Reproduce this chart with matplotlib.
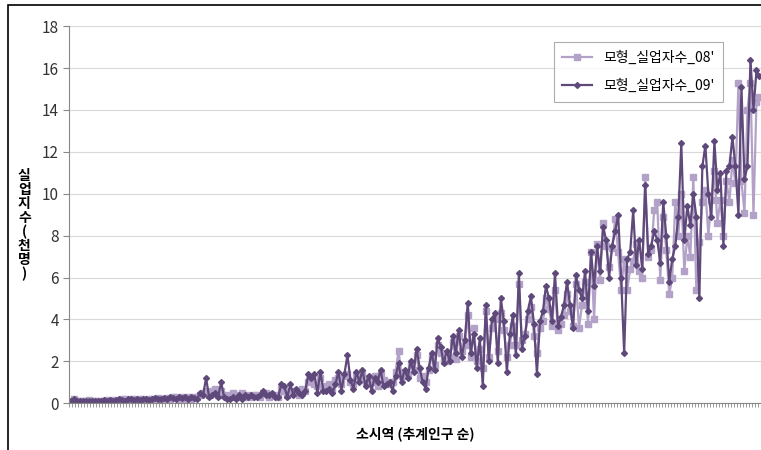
import matplotlib.pyplot as plt
from matplotlib.patches import Rectangle

plt.rcParams['font.family'] = ['Noto Sans CJK KR', 'DejaVu Sans']

s09 = [0.1,0.2,0.1,0.1,0.1,0.1,0.1,0.1,0.1,0.1,
       0.1,0.15,0.1,0.15,0.1,0.15,0.2,0.15,0.1,0.2,
       0.2,0.15,0.2,0.15,0.2,0.2,0.15,0.2,0.25,0.2,
       0.2,0.25,0.2,0.3,0.25,0.2,0.3,0.25,0.3,0.2,
       0.3,0.25,0.2,0.5,0.4,1.2,0.3,0.4,0.5,0.3,
       1.0,0.3,0.2,0.2,0.3,0.2,0.4,0.2,0.4,0.3,
       0.4,0.3,0.3,0.4,0.6,0.4,0.4,0.5,0.3,0.3,
       0.9,0.8,0.3,0.9,0.4,0.7,0.5,0.4,0.6,1.4,
       1.2,1.4,0.5,1.5,0.6,0.6,0.7,0.5,0.9,1.5,
       0.6,1.4,2.3,1.1,0.7,1.5,1.0,1.6,0.8,1.3,
       0.6,1.2,1.0,1.6,0.8,0.9,1.0,0.6,1.3,1.9,
       1.0,1.6,1.2,2.0,1.5,2.6,1.7,1.0,0.7,1.7,
       2.4,1.6,3.1,2.7,1.9,2.5,2.0,3.2,2.4,3.5,
       2.2,3.0,4.8,2.4,3.3,1.7,3.1,0.8,4.7,2.0,
       4.0,4.3,1.9,5.0,3.9,1.5,3.3,4.2,2.3,6.2,
       2.6,3.2,4.4,5.1,3.8,1.4,3.9,4.4,5.6,5.0,
       3.9,6.2,3.7,4.1,4.7,5.8,4.7,3.6,6.1,5.4,
       5.0,6.3,4.4,7.2,5.6,7.5,6.3,8.4,7.8,6.0,
       7.5,8.2,9.0,6.0,2.4,6.9,7.2,9.2,6.6,7.8,
       6.4,10.4,7.1,7.5,8.2,7.8,6.7,9.6,8.0,5.8,
       6.9,7.5,8.9,12.4,7.8,9.4,8.5,10.0,8.9,5.0,
       11.3,12.3,10.0,8.9,12.5,10.2,11.0,7.5,11.1,11.3,
       12.7,11.3,9.0,15.1,10.7,11.3,16.4,14.0,15.9,15.6]

s08 = [0.1,0.2,0.1,0.1,0.1,0.1,0.15,0.1,0.1,0.1,
       0.1,0.1,0.15,0.1,0.15,0.1,0.15,0.2,0.2,0.1,
       0.2,0.2,0.15,0.2,0.2,0.15,0.2,0.2,0.2,0.25,
       0.2,0.2,0.25,0.2,0.3,0.3,0.2,0.3,0.2,0.3,
       0.2,0.3,0.3,0.4,0.5,0.6,0.4,0.6,0.7,0.4,
       0.6,0.4,0.3,0.4,0.5,0.4,0.3,0.5,0.3,0.4,
       0.3,0.4,0.4,0.3,0.5,0.5,0.3,0.4,0.4,0.3,
       0.7,0.6,0.4,0.6,0.5,0.6,0.4,0.7,0.6,1.0,
       1.2,0.9,0.8,1.2,0.7,0.8,0.9,0.7,1.1,1.2,
       0.9,1.3,1.4,1.0,0.9,1.3,1.2,1.4,1.0,1.2,
       1.0,1.3,0.8,1.4,1.1,1.0,0.9,1.0,1.5,2.5,
       1.3,1.5,1.4,1.8,1.6,2.3,1.2,1.3,1.0,1.6,
       2.2,1.8,2.8,2.4,2.0,2.0,2.2,2.9,2.1,3.2,
       2.5,2.8,4.2,2.2,3.6,2.0,2.6,1.7,4.4,2.2,
       3.6,4.0,2.5,4.3,3.5,2.2,2.8,3.7,2.8,5.7,
       3.0,3.3,4.0,4.6,3.2,2.4,3.6,3.9,5.0,4.5,
       3.7,5.4,3.5,3.8,4.2,5.2,4.4,3.7,5.7,3.6,
       4.7,5.8,3.8,7.2,4.0,7.6,5.9,8.6,7.5,6.5,
       7.4,8.8,7.2,5.4,6.9,5.4,6.4,6.8,7.6,6.3,
       6.0,10.8,7.0,7.3,9.2,9.6,5.9,8.9,7.3,5.2,
       6.0,9.6,8.0,10.0,6.3,8.0,7.0,10.8,5.4,7.7,
       9.6,10.2,8.0,9.7,11.1,8.6,9.7,8.0,10.6,9.6,
       11.6,10.5,15.3,10.6,9.1,14.0,15.3,9.0,14.4,14.6]

x = list(range(len(s09)))

fig = plt.figure(figsize=(7.61, 4.5), dpi=100)
fig.patches.append(Rectangle((0.011, -0.01), 0.99, 1.0, transform=fig.transFigure,
                             fill=False, edgecolor='black', linewidth=1.2))
ax = fig.add_axes([0.091, 0.104, 0.909, 0.838])

ax.plot(x, s08, color='#b3a2c7', marker='s', markersize=5, linewidth=1.6,
        label="모형_실업자수_08'")
ax.plot(x, s09, color='#5f497a', marker='D', markersize=3, linewidth=1.6,
        label="모형_실업자수_09'")

ax.set_ylim(0, 18)
ax.set_yticks(range(0, 19, 2))
ax.set_xlim(-0.5, len(x) - 0.5)
ax.set_xticks([i - 0.5 for i in range(len(x) + 1)])
ax.set_xticklabels([])
ax.tick_params(axis='x', length=3, color='#888888', width=0.6)
ax.tick_params(axis='y', length=4, color='#888888', labelsize=11, labelcolor='#333333')
ax.yaxis.grid(True, color='#d9d9d9', linewidth=0.8)
ax.set_axisbelow(True)
for s in ['top', 'right']:
    ax.spines[s].set_visible(False)
ax.spines['left'].set_color('#888888')
ax.spines['bottom'].set_color('#888888')

ax.set_xlabel('소시역 (추계인구 순)', fontsize=10, fontweight='bold', labelpad=10)
fig.text(0.032, 0.5, '실\n업\n지\n수\n(\n천\n명\n)', fontsize=10, fontweight='bold',
         ha='center', va='center', linespacing=1.0)

leg = ax.legend(loc='upper left', bbox_to_anchor=(0.69, 0.975), fontsize=10,
                frameon=True, fancybox=False, edgecolor='#999999', labelspacing=1.0,
                handlelength=2.2, borderpad=0.6)
leg.get_frame().set_linewidth(0.8)

fig.savefig('out.png', dpi=100)
